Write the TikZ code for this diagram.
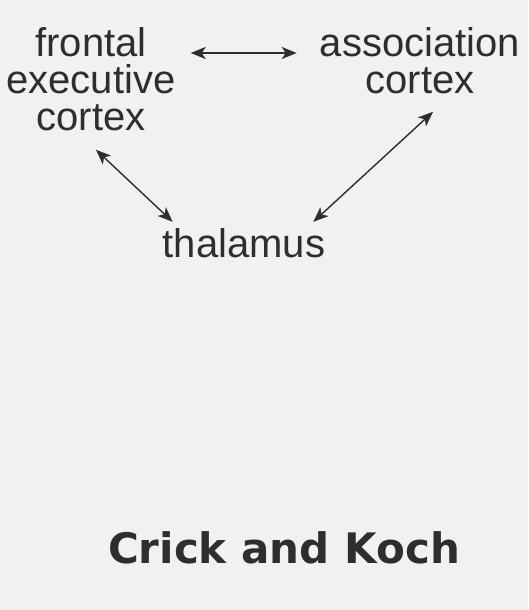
\documentclass[tikz,border=0pt]{standalone}
\usepackage{fontspec}
\usepackage{tikz}
\usetikzlibrary{arrows.meta}
\newfontfamily\lblfont{Liberation Sans}
\newfontfamily\ttlfont{DejaVu Sans}
\definecolor{ink}{HTML}{2E2E2E}
\definecolor{paper}{HTML}{F1F1EF}

\begin{document}
\begin{tikzpicture}[
x=1pt, y=-1pt,
lbl/.style={align=center, inner sep=0pt, text=ink, font=\lblfont\fontsize{40}{37}\selectfont},
ttl/.style={inner sep=0pt, text=ink, font=\ttlfont\bfseries\fontsize{42}{46}\selectfont},
arrow/.style={{Stealth[length=15pt,width=12pt,inset=4pt]}-{Stealth[length=15pt,width=12pt,inset=4pt]}, line width=2pt, draw=ink},
thin arrow/.style={arrow, line width=1.4pt}
]
\useasboundingbox (0,0) rectangle (528,610);
\fill[paper] (0,0) rectangle (528,610);
\node[lbl, anchor=north] (front) at (91,27) {frontal\\executive\\cortex};
\node[lbl, anchor=north] (assoc) at (420,27) {association\\cortex};
\node[lbl, anchor=base] (thal) at (244,257) {thalamus};
\node[ttl, anchor=base] (title) at (284,563) {Crick and Koch};
\draw[arrow] ([xshift=15pt,yshift=-26pt]front.north east) -- ([xshift=-23pt,yshift=-26pt]assoc.north west);
\draw[thin arrow] ([xshift=5pt,yshift=-19pt]front.south) -- ([xshift=10pt,yshift=6pt]thal.north west);
\draw[thin arrow] ([xshift=13pt,yshift=-18pt]assoc.south) -- ([xshift=-12pt,yshift=6pt]thal.north east);
\end{tikzpicture}
\end{document}
